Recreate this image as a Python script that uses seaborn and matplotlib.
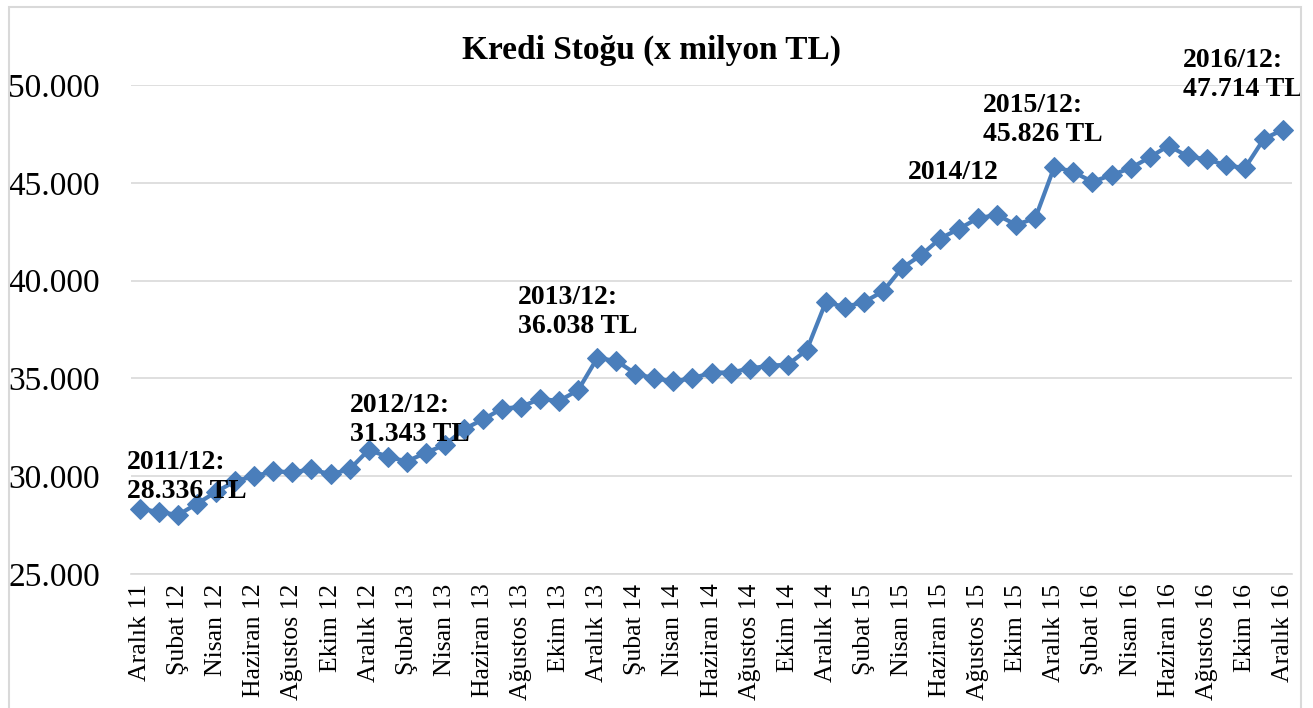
import numpy as np
import pandas as pd
import matplotlib
matplotlib.use("Agg")
import matplotlib.pyplot as plt
import seaborn as sns
from matplotlib.patches import Rectangle

# ===============================
# DATA (x milyon TL, monthly, Aralık 2011 - Aralık 2016)
# ===============================
kredi_stogu = [
    28336, 28170, 28020, 28600, 29200, 29750, 30000, 30250, 30200, 30350,
    30100, 30350, 31343, 31000, 30750, 31200, 31600, 32400, 32900, 33450,
    33550, 33950, 33850, 34400, 36038, 35900, 35250, 35000, 34850, 35000,
    35300, 35300, 35500, 35650, 35700, 36450, 38900, 38650, 38900, 39450,
    40650, 41300, 42150, 42650, 43200, 43350, 42850, 43200, 45826, 45550,
    45050, 45400, 45750, 46300, 46900, 46350, 46200, 45900, 45750, 47250,
    47714,
]

tick_labels = [
    "Aralık 11", "Şubat 12", "Nisan 12", "Haziran 12", "Ağustos 12", "Ekim 12",
    "Aralık 12", "Şubat 13", "Nisan 13", "Haziran 13", "Ağustos 13", "Ekim 13",
    "Aralık 13", "Şubat 14", "Nisan 14", "Haziran 14", "Ağustos 14", "Ekim 14",
    "Aralık 14", "Şubat 15", "Nisan 15", "Haziran 15", "Ağustos 15", "Ekim 15",
    "Aralık 15", "Şubat 16", "Nisan 16", "Haziran 16", "Ağustos 16", "Ekim 16",
    "Aralık 16",
]

# annotation: index of month, text
notes_idx = [0, 12, 24, 36, 48, 60]
notes_txt = [
    "2011/12:\n28.336 TL",
    "2012/12:\n31.343 TL",
    "2013/12:\n36.038 TL",
    "2014/12",
    "2015/12:\n45.826 TL",
    "2016/12:\n47.714 TL",
]

y_ticks = [25000, 30000, 35000, 40000, 45000, 50000]

df = pd.DataFrame({"idx": np.arange(len(kredi_stogu)), "deger": kredi_stogu})

# ===============================
# STYLE
# ===============================
sns.set_style("white")
plt.rcParams["font.family"] = ["Liberation Serif", "DejaVu Serif"]
plt.rcParams["text.color"] = "black"
plt.rcParams["xtick.color"] = "black"
plt.rcParams["ytick.color"] = "black"

LINE = "#4A7EBB"
GRID = "#D9D9D9"

fig = plt.figure(figsize=(13.13, 7.08), dpi=100)
W, H = 1313, 708
ax = fig.add_axes([130.5 / W, 1 - 574 / H, (1292.5 - 130.5) / W, (574 - 85) / H])

sns.lineplot(
    data=df, x="idx", y="deger", ax=ax,
    color=LINE, linewidth=3, marker="D", markersize=10.5,
    markeredgecolor=LINE, clip_on=False, zorder=3,
)

ax.set_xlim(-0.5, len(kredi_stogu) - 0.5)
ax.set_ylim(25000, 50000)

ax.set_yticks(y_ticks)
ax.set_yticklabels([f"{v:,}".replace(",", ".") for v in y_ticks])
ax.tick_params(axis="y", length=0, pad=22, labelsize=24, labelcolor="black")

ax.set_xticks(np.arange(0, len(kredi_stogu), 2))
ax.set_xticklabels(tick_labels, rotation=90)
ax.tick_params(axis="x", which="major", length=0, pad=7, labelsize=18.5,
               labelcolor="black")
ax.set_xticks(np.arange(-0.5, len(kredi_stogu), 2), minor=True)
ax.tick_params(axis="x", which="minor", length=6, color=GRID, width=1)

ax.grid(axis="y", color=GRID, linewidth=1.2)
ax.set_axisbelow(True)
for s in ["left", "right", "top"]:
    ax.spines[s].set_visible(False)
ax.spines["bottom"].set_color(GRID)
ax.spines["bottom"].set_linewidth(1.2)
ax.set_xlabel("")
ax.set_ylabel("")

# annotation offsets (index units, value units) from each point
offsets = [(-0.68, 2995), (-1.0, 2910), (-4.15, 3740), (4.3, 7265), (-3.75, 3765), (-5.25, 4178)]
for i, t, (dx, dy) in zip(notes_idx, notes_txt, offsets):
    ax.text(i + dx, kredi_stogu[i] + dy, t, ha="left", va="top",
            fontsize=20, fontweight="bold", linespacing=1.2, clip_on=False, zorder=4)

fig.text(651 / W, 1 - 50 / H, "Kredi Stoğu (x milyon TL)", ha="center", va="center",
         fontsize=24, fontweight="bold")

# chart area border
fig.patches.append(Rectangle((9 / W, -0.01), (1301 - 9) / W, 1 - 7 / H + 0.01,
                             transform=fig.transFigure, fill=False,
                             edgecolor=GRID, linewidth=1.5))

plt.savefig("out.png", dpi=100)
plt.close()
